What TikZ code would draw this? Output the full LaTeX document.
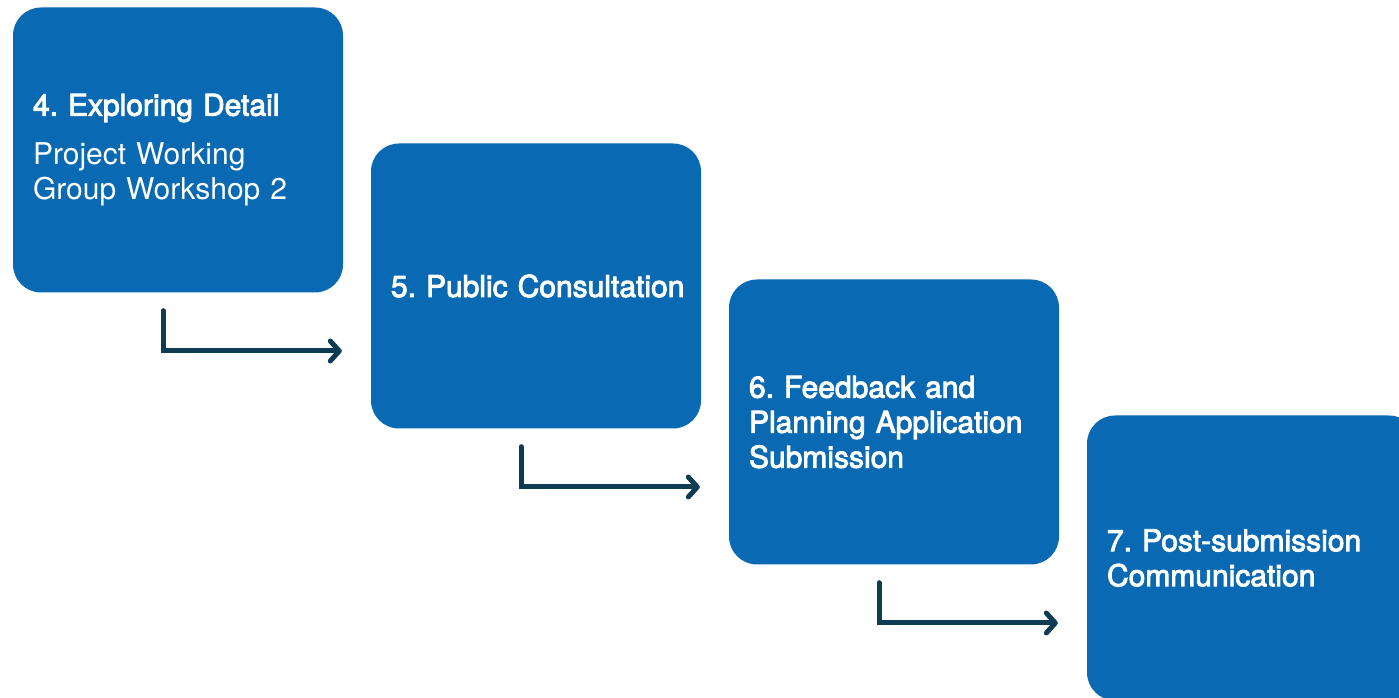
\documentclass[tikz,border=0pt]{standalone}
\usepackage{fontspec}
\setmainfont{TeX Gyre Heros}
\newfontfamily\medfont[FakeBold=3]{TeX Gyre Heros}
\usetikzlibrary{positioning,arrows.meta}

\definecolor{stageblue}{HTML}{0A69B3}
\definecolor{flowteal}{HTML}{0E3C55}

\begin{document}
\frenchspacing
\hyphenpenalty=10000
\begin{tikzpicture} [x=1pt,y=1pt,
		stage/.style={rectangle,rounded corners=28pt,fill=stageblue,text=white,
			minimum width=330pt,minimum height=285pt,text width=290pt,align=left,
			inner sep=0pt,font=\fontsize{30}{35}\selectfont},
		flow/.style={draw=flowteal,line width=5pt,line cap=round,
			-{Straight Barb[round,length=9pt,width=20pt]}}]

	\useasboundingbox (0,0) rectangle (1399,698);
	\clip (0,0) rectangle (1399,698);

	\node [stage] (stage-4) at ( 178,548) {{\medfont 4. Exploring Detail}\\[14pt]
		Project Working\\Group Workshop 2};
	\node [stage] (stage-5) at ( 536,412) {\medfont\mbox{5. Public Consultation}};
	\node [stage] (stage-6) at ( 894,276) {\medfont 6. Feedback and\\
		Planning Application\\Submission};
	\node [stage] (stage-7) at (1252,140) {\medfont 7. Post-submission\\
		Communication};

	\foreach \from/\to in {4/5,5/6,6/7} {
		\coordinate (out-\from) at ([xshift=-15pt,yshift=-18pt]stage-\from.south);
		\coordinate (in-\to) at ([xshift=-29pt,yshift=-65pt]stage-\to.west);
		\draw [flow] (out-\from) |- (in-\to);
	}
\end{tikzpicture}
\end{document}
